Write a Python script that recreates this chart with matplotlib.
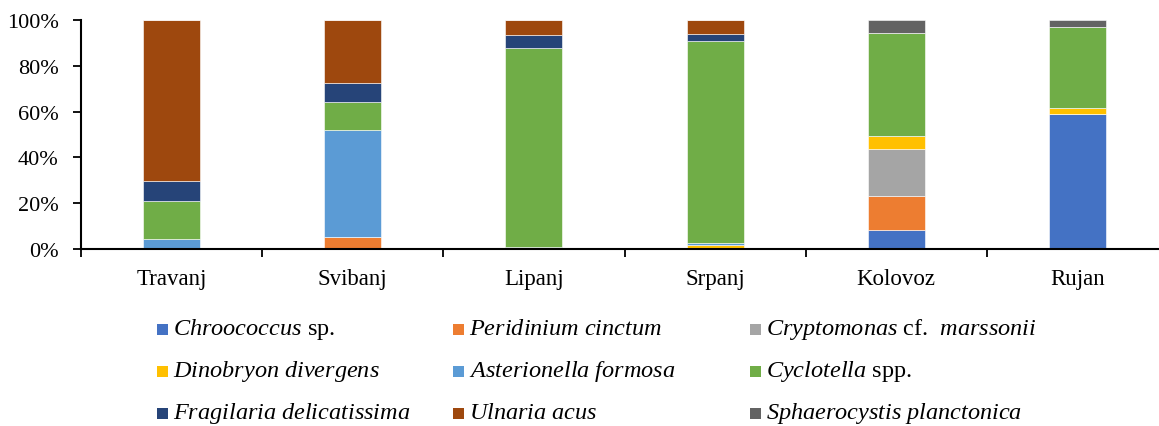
import numpy as np
import matplotlib.pyplot as plt
from matplotlib.patches import Rectangle
from matplotlib.ticker import PercentFormatter

plt.rcParams['font.family'] = ['Liberation Serif', 'DejaVu Serif']
plt.rcParams['mathtext.fontset'] = 'custom'
plt.rcParams['mathtext.it'] = 'Liberation Serif:italic'
plt.rcParams['mathtext.rm'] = 'Liberation Serif'

months = ['Travanj', 'Svibanj', 'Lipanj', 'Srpanj', 'Kolovoz', 'Rujan']

# share of each taxon per month (%)
chroococcus = [0, 0, 0, 0, 8.2, 58.8]
peridinium = [0, 5.3, 0, 0.5, 14.9, 0]
cryptomonas = [0.3, 0, 0, 0, 20.6, 0]
dinobryon = [0, 0, 0, 1.3, 5.7, 2.9]
asterionella = [3.9, 46.7, 1.0, 0.9, 0, 0]
cyclotella = [16.6, 12.0, 86.8, 88.1, 44.8, 35.1]
fragilaria = [9.1, 8.3, 5.5, 2.9, 0, 0]
ulnaria = [70.1, 27.7, 6.7, 6.3, 0, 0]
sphaerocystis = [0, 0, 0, 0, 5.8, 3.2]

series = [chroococcus, peridinium, cryptomonas, dinobryon, asterionella,
          cyclotella, fragilaria, ulnaria, sphaerocystis]
labels = [r'$\mathit{Chroococcus}$ sp.',
          r'$\mathit{Peridinium\ cinctum}$',
          r'$\mathit{Cryptomonas}$ cf.  $\mathit{marssonii}$',
          r'$\mathit{Dinobryon\ divergens}$',
          r'$\mathit{Asterionella\ formosa}$',
          r'$\mathit{Cyclotella}$ spp.',
          r'$\mathit{Fragilaria\ delicatissima}$',
          r'$\mathit{Ulnaria\ acus}$',
          r'$\mathit{Sphaerocystis\ planctonica}$']
colors = ['#4472C4', '#ED7D31', '#A5A5A5', '#FFC000', '#5B9BD5',
          '#70AD47', '#264478', '#9E480E', '#636363']

W, H = 1159, 427
fig = plt.figure(figsize=(W / 100, H / 100), dpi=100)
ax = fig.add_axes([81 / W, 1 - 250 / H, (1168 - 81) / W, (250 - 21) / H])

x = np.arange(len(months))
bottom = np.zeros(len(months))
for vals, c in zip(series, colors):
    v = np.array(vals) / 100
    ax.bar(x, v, 0.314, bottom=bottom, color=c, edgecolor='white', linewidth=0.4)
    bottom += v

ax.set_xlim(-0.5, len(months) - 0.5)
ax.set_ylim(0, 1)
ax.yaxis.set_major_formatter(PercentFormatter(1.0, decimals=0))
ax.set_yticks(np.linspace(0, 1, 6))

ax.set_xticks(np.arange(-0.5, len(months), 1))
ax.set_xticklabels([])
ax.set_xticks(x, minor=True)
ax.set_xticklabels(months, minor=True)
ax.tick_params(axis='x', which='major', direction='out', length=6, width=1.3)
ax.tick_params(axis='x', which='minor', length=0, pad=14, labelsize=16.5)
ax.tick_params(axis='y', direction='out', length=6, width=1.3, pad=10, labelsize=16)

for s in ['top', 'right']:
    ax.spines[s].set_visible(False)
for s in ['left', 'bottom']:
    ax.spines[s].set_linewidth(1.5)

# legend, three columns laid out like the original
col_x = [157, 453, 750]
row_y = [330, 372, 414]
for i, (lab, c) in enumerate(zip(labels, colors)):
    cx = col_x[i % 3]
    cy = row_y[i // 3]
    fig.patches.append(Rectangle(((cx) / W, 1 - (cy + 6) / H), 11 / W, 11 / H,
                                 transform=fig.transFigure, facecolor=c,
                                 edgecolor='none'))
    fig.text((cx + 16) / W, 1 - cy / H, lab, fontsize=17.5, va='center', ha='left')

fig.savefig('out.png', dpi=100)
